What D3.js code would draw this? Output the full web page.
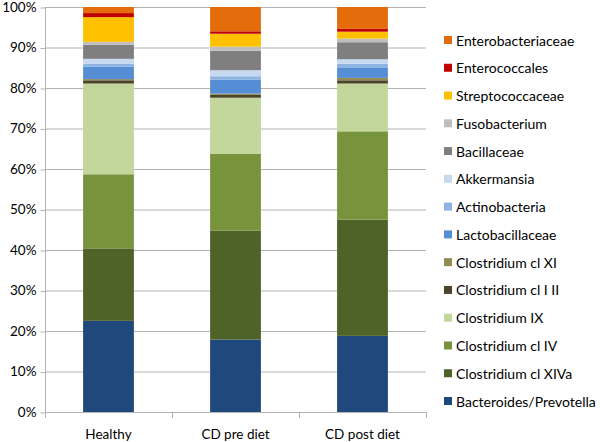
<!DOCTYPE html>
<html><head><meta charset="utf-8">
<script src="https://cdn.jsdelivr.net/npm/d3@7"></script>
<style>body{margin:0;background:#fff}svg{display:block;font-family:Lato,"Open Sans",sans-serif}</style>
</head><body><svg id="c" width="600" height="442"></svg>
<script>
const categories = ["Healthy", "CD pre diet", "CD post diet"];
const seriesNames = ["Bacteroides/Prevotella","Clostridium cl XIVa","Clostridium cl IV","Clostridium IX","Clostridium cl I II","Clostridium cl XI","Lactobacillaceae","Actinobacteria","Akkermansia","Bacillaceae","Fusobacterium","Streptococcaceae","Enterococcales","Enterobacteriaceae"];
const seriesColors = ["#1F497D","#4F6228","#77933C","#C3D69B","#4A452A","#948A54","#558ED5","#8EB4E3","#C6D9F1","#7F7F7F","#BFBFBF","#FFC000","#C00000","#E46C0A"];
const healthy = [22.5,17.9,18.3,22.4,0.8,0.3,3.1,0.7,1.2,3.5,0.7,6.1,1.0,1.5];
const cdPre   = [17.9,26.9,19.0,13.8,0.7,0.3,3.5,0.8,1.5,4.8,1.0,3.2,0.6,6.0];
const cdPost  = [18.8,28.7,21.8,11.8,0.8,0.6,2.6,0.9,1.1,4.2,0.9,1.7,0.7,5.4];
const yTicks = [0,10,20,30,40,50,60,70,80,90,100];

const values = [healthy, cdPre, cdPost];
const rows = categories.map((c,i)=>{const r={cat:c}; seriesNames.forEach((s,j)=>r[s]=values[i][j]); return r;});
const stacked = d3.stack().keys(seriesNames)(rows);

const svg = d3.select("#c");
const x = d3.scaleBand().domain(categories).range([45,426]).paddingInner(0.6).paddingOuter(0.3);
const y = d3.scaleLinear().domain([0,100]).range([412,7]);

// gridlines
svg.append("g").selectAll("line").data(yTicks).join("line")
  .attr("x1",45).attr("x2",426).attr("y1",d=>y(d)+0.5).attr("y2",d=>y(d)+0.5)
  .attr("stroke","#b3b3b3").attr("stroke-width",1);

// y axis
const ya = svg.append("g").attr("transform","translate(45.5,0)")
  .call(d3.axisLeft(y).tickValues(yTicks).tickFormat(d=>d+"%").tickSize(5).tickPadding(4));
ya.select(".domain").attr("stroke","#b3b3b3").attr("d","M0,7V412.5");
ya.selectAll(".tick line").attr("stroke","#b3b3b3").attr("transform","translate(0,0.5)");
ya.selectAll(".tick text").attr("font-size",13.5).attr("fill","#000").attr("font-family","Lato,sans-serif");

// x axis
const xa = svg.append("g").attr("transform","translate(0,412.5)")
  .call(d3.axisBottom(x).tickSize(0).tickPadding(17));
xa.select(".domain").remove();
xa.selectAll(".tick text").attr("font-size",13.5).attr("fill","#000").attr("font-family","Lato,sans-serif");
const bounds = [45, ...categories.map(c=>x(c)+x.bandwidth()+x.step()*x.paddingInner()/2)];
svg.append("g").selectAll("line").data(bounds).join("line")
  .attr("x1",d=>Math.round(d)+0.5).attr("x2",d=>Math.round(d)+0.5).attr("y1",412).attr("y2",418)
  .attr("stroke","#b3b3b3");

// bars
svg.append("g").selectAll("g").data(stacked).join("g")
  .attr("fill",(d,i)=>seriesColors[i])
  .selectAll("rect").data(d=>d).join("rect")
  .attr("x",d=>x(d.data.cat)).attr("width",x.bandwidth())
  .attr("y",d=>y(d[1])).attr("height",d=>y(d[0])-y(d[1]));

// legend (reverse order)
const legendItems = seriesNames.map((s,i)=>({name:s,color:seriesColors[i]})).reverse();
const lg = svg.append("g").selectAll("g").data(legendItems).join("g")
  .attr("transform",(d,i)=>`translate(444,${40+i*27.77})`);
lg.append("rect").attr("x",0).attr("y",-4).attr("width",8).attr("height",8).attr("fill",d=>d.color);
lg.append("text").attr("x",12).attr("y",5.5).attr("font-size",14).attr("font-family","Lato,sans-serif").attr("fill","#000").text(d=>d.name);
</script></body></html>
